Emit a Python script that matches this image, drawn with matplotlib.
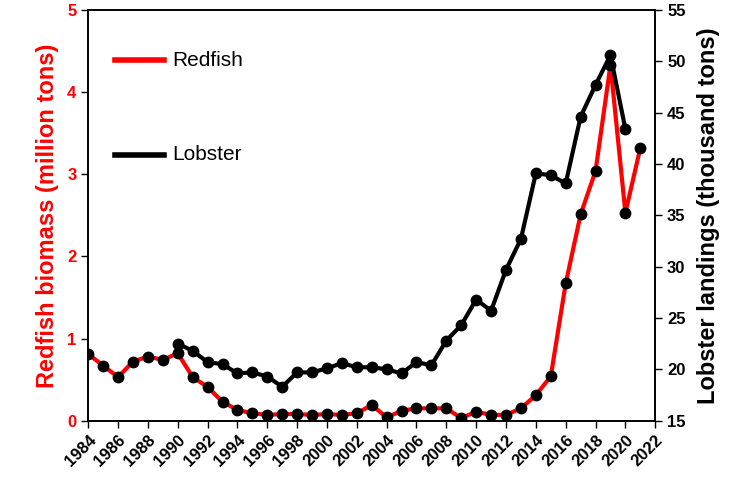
import matplotlib
matplotlib.use("Agg")
import matplotlib.pyplot as plt

plt.rcParams['font.family'] = ['Liberation Sans', 'DejaVu Sans']

years_red = list(range(1984, 2022))
redfish = [0.81, 0.67, 0.53, 0.72, 0.78, 0.74, 0.82, 0.53, 0.41, 0.23, 0.13, 0.09, 0.07, 0.08,
           0.08, 0.07, 0.08, 0.07, 0.09, 0.19, 0.04, 0.12, 0.15, 0.15, 0.15, 0.03, 0.11, 0.07,
           0.07, 0.15, 0.31, 0.54, 1.67, 2.51, 3.04, 4.33, 2.53, 3.32]
years_lob = list(range(1990, 2021))
lobster = [22.5, 21.8, 20.7, 20.5, 19.6, 19.7, 19.3, 18.3, 19.7, 19.7, 20.1, 20.6, 20.2, 20.2,
           20.0, 19.6, 20.7, 20.4, 22.8, 24.3, 26.8, 25.7, 29.7, 32.7, 39.1, 38.9, 38.1, 44.6,
           47.7, 50.6, 43.4]
xticks = list(range(1984, 2023, 2))

fig = plt.figure(figsize=(7.54, 4.99), dpi=100)
ax = fig.add_axes([0.117, 0.157, 0.752, 0.823])
ax2 = ax.twinx()

ax.plot(years_red, redfish, color='#ff0000', lw=3, marker='o', ms=7.5,
        mfc='black', mec='black', zorder=3)
ax2.plot(years_lob, lobster, color='black', lw=3, marker='o', ms=7.5,
         mfc='black', mec='black', zorder=3)

ax.set_xlim(1984, 2022)
ax.set_ylim(0, 5)
ax2.set_ylim(15, 55)
ax.set_xticks(xticks)
ax.set_xticklabels([str(y) for y in xticks], rotation=45, ha='right',
                   rotation_mode='anchor', fontsize=12, fontweight='bold')
ax.set_yticks([0, 1, 2, 3, 4, 5])
ax.set_yticklabels(['0', '1', '2', '3', '4', '5'], color='#ff0000', fontsize=12, fontweight='bold')
ax2.set_yticks(range(15, 56, 5))
ax2.set_yticklabels([str(v) for v in range(15, 56, 5)], fontsize=12, fontweight='bold')
ax.set_ylabel('Redfish biomass (million tons)', color='#ff0000', fontsize=17, fontweight='bold',
              labelpad=6)
ax2.set_ylabel('Lobster landings (thousand tons)', color='black', fontsize=17, fontweight='bold',
               labelpad=8)
for a in (ax, ax2):
    a.tick_params(direction='out', length=5, width=1)
    for s in a.spines.values():
        s.set_linewidth(1.2)

# legend-like annotations
ax.plot([1985.8, 1989.1], [4.39, 4.39], color='#ff0000', lw=4, zorder=4)
ax.text(1989.6, 4.39, 'Redfish', fontsize=15, va='center')
ax.plot([1985.8, 1989.1], [3.24, 3.24], color='black', lw=4, zorder=4)
ax.text(1989.6, 3.24, 'Lobster', fontsize=15, va='center')

fig.savefig('out.png', dpi=100)
